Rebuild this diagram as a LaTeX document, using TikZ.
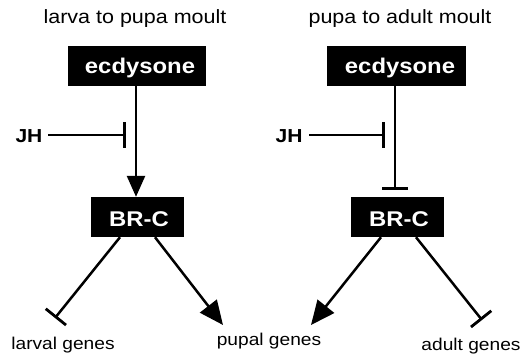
\documentclass[tikz,border=0pt]{standalone}
\usepackage{fontspec}
% Arial-metric face, set slightly wide
\setmainfont[FakeStretch=1.12]{Liberation Sans}
\usetikzlibrary{arrows.meta,calc}
\begin{document}
\begin{tikzpicture}[x=1pt,y=-1pt,
  title/.style={font=\fontsize{19.2}{23}\selectfont, anchor=base, inner sep=0pt},
  genbox/.style={fill=black, minimum height=40pt, inner sep=0pt},
  boxtext/.style={text=white, font=\bfseries\fontsize{21.3}{25}\selectfont, anchor=base, inner sep=0pt},
  hormone/.style={font=\bfseries\fontsize{18.8}{22}\selectfont, anchor=base, inner sep=0pt},
  target/.style={font=\fontsize{17.1}{21}\selectfont, anchor=base, inner sep=0pt},
  link/.style={line width=2.5pt},
  activates/.style={link, -{Triangle[length=21pt,width=18pt]}},
  induces/.style={link, -{Triangle[length=24pt,width=21pt]}},
  represses/.style={link, -{Bar[width=26pt,line width=2.8pt]}}]
\useasboundingbox (0,0) rectangle (528,357);

% larva to pupa moult
\node[title] (titleL) at (135,23) {larva to pupa moult};
\node[genbox, minimum width=138pt] (ecdL) at (137,66) {};
\node[boxtext] (ecdLtxt) at (140,73.5) {ecdysone};
\node[genbox, minimum width=93pt] (brcL) at (137,217) {};
\node[boxtext] (brcLtxt) at (139,226.5) {BR-C};
\node[hormone] (jhL) at (29,142) {JH};
\coordinate (jhLend) at (126,135);
\coordinate (larval) at (55,318);
\coordinate (pupalL) at (223,325);
\node[target] (larvalTxt) at (63,349) {larval genes};

\draw[activates] (ecdL.south -| 136,0) -- (brcL.north -| 136,0);
\draw[represses] (48,135) -- (jhLend);
\draw[represses] ($(brcL.south)+(-17,0)$) -- (larval);
\draw[induces] ($(brcL.south)+(18,0)$) -- (pupalL);

% shared target
\node[target] (pupalTxt) at (269,345) {pupal genes};

% pupa to adult moult
\node[title] (titleR) at (400,23) {pupa to adult moult};
\node[genbox, minimum width=139pt] (ecdR) at (396,66) {};
\node[boxtext] (ecdRtxt) at (400,73.5) {ecdysone};
\node[genbox, minimum width=93pt] (brcR) at (397,217) {};
\node[boxtext] (brcRtxt) at (399,226.5) {BR-C};
\node[hormone] (jhR) at (289,142) {JH};
\coordinate (jhRend) at (385,135);
\coordinate (brcRblock) at (395,190);
\coordinate (pupalR) at (311,325);
\coordinate (adult) at (482,320);
\node[target] (adultTxt) at (471,350) {adult genes};

\draw[represses] (ecdR.south -| 395,0) -- (brcRblock);
\draw[represses] (309,135) -- (jhRend);
\draw[induces] ($(brcR.south)+(-16,0)$) -- (pupalR);
\draw[represses] ($(brcR.south)+(19,0)$) -- (adult);
\end{tikzpicture}
\end{document}
